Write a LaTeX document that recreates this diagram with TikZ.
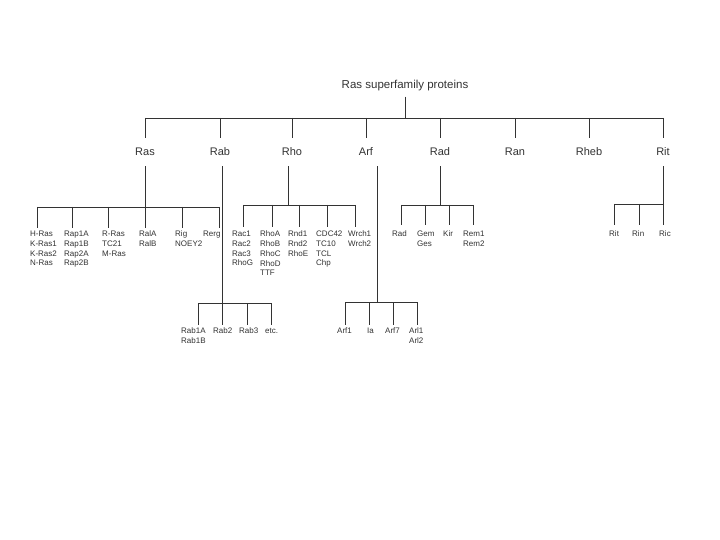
\documentclass[tikz,border=0pt]{standalone}
\usepackage{fontspec}
\setmainfont{Liberation Sans}
\definecolor{linec}{HTML}{333333}
\definecolor{txtc}{HTML}{333333}
\begin{document}
\begin{tikzpicture}[x=1pt,y=-1pt,
  ln/.style={draw=linec, line width=0.8pt},
  ttl/.style={font=\fontsize{11.5}{13}\selectfont, text=txtc, inner sep=5pt},
  fam/.style={font=\fontsize{11}{13}\selectfont, text=txtc, inner xsep=1pt, inner ysep=10pt},
  sub/.style={font=\fontsize{8}{9.7}\selectfont, text=txtc, align=left, anchor=north west, inner sep=0pt}]
\useasboundingbox[fill=white] (0,0) rectangle (720,540);

% title and families
\node[ttl] (top) at (405,86) {Ras superfamily proteins};
\coordinate (bar) at (405,118);
\node[fam] (ras) at (145,152) {Ras};
\node[fam] (rab) at (220,152) {Rab};
\node[fam] (rho) at (292,152) {Rho};
\node[fam] (arf) at (366,152) {Arf};
\node[fam] (rad) at (440,152) {Rad};
\node[fam] (ran) at (515,152) {Ran};
\node[fam] (rheb) at (589,152) {Rheb};
\node[fam] (rit) at (663,152) {Rit};

\draw[ln] (top.south) -- (bar);
\draw[ln] (ras.north |- bar) -- (rit.north |- bar);
\foreach \f in {ras,rab,rho,arf,rad,ran,rheb,rit}
  \draw[ln] (\f.north |- bar) -- (\f.north);

% junctions
\coordinate (rasj) at (145,207);
\coordinate (rabj) at (222,303);
\coordinate (rhoj) at (288,205);
\coordinate (arfj) at (377,302);
\coordinate (radj) at (440,205);
\coordinate (ritj) at (663,204);
\draw[ln] (ras.south) -- (rasj);
\draw[ln] (rabj |- rab.south) -- (rabj);
\draw[ln] (rhoj |- rho.south) -- (rhoj);
\draw[ln] (arfj |- arf.south) -- (arfj);
\draw[ln] (radj |- rad.south) -- (radj);
\draw[ln] (rit.south) -- (ritj);

% Ras group
\foreach \n/\x in {1/37,2/72,3/108,4/145,5/182,6/219}
  \coordinate (rasd\n) at (\x,228);
\draw[ln] (rasd1 |- rasj) -- (rasd6 |- rasj);
\foreach \n in {1,...,6} \draw[ln] (rasd\n |- rasj) -- (rasd\n);
\node[sub] (hras) at (30,231) {H-Ras\\K-Ras1\\K-Ras2\\N-Ras};
\node[sub] (rap) at (64,231) {Rap1A\\Rap1B\\Rap2A\\Rap2B};
\node[sub] (rras) at (102,231) {R-Ras\\TC21\\M-Ras};
\node[sub] (ral) at (139,231) {RalA\\RalB};
\node[sub] (rig) at (175,231) {Rig\\NOEY2};
\node[sub] (rerg) at (203,231) {Rerg};

% Rho group
\foreach \n/\x in {1/243,2/272,3/299,4/327,5/355}
  \coordinate (rhod\n) at (\x,227);
\draw[ln] (rhod1 |- rhoj) -- (rhod5 |- rhoj);
\foreach \n in {1,...,5} \draw[ln] (rhod\n |- rhoj) -- (rhod\n);
\node[sub] (rac) at (232,231) {Rac1\\Rac2\\Rac3\\RhoG};
\node[sub] (rhoa) at (260,231) {RhoA\\RhoB\\RhoC\\RhoD\\TTF};
\node[sub] (rnd) at (288,231) {Rnd1\\Rnd2\\RhoE};
\node[sub] (cdc) at (316,231) {CDC42\\TC10\\TCL\\Chp};
\node[sub] (wrch) at (348,231) {Wrch1\\Wrch2};

% Rad group
\foreach \n/\x in {1/401,2/425,3/449,4/473}
  \coordinate (radd\n) at (\x,225);
\draw[ln] (radd1 |- radj) -- (radd4 |- radj);
\foreach \n in {1,...,4} \draw[ln] (radd\n |- radj) -- (radd\n);
\node[sub] (radl) at (392,231) {Rad};
\node[sub] (gem) at (417,231) {Gem\\Ges};
\node[sub] (kir) at (443,231) {Kir};
\node[sub] (rem) at (463,231) {Rem1\\Rem2};

% Rit group
\foreach \n/\x in {1/614,2/639,3/663}
  \coordinate (ritd\n) at (\x,225);
\draw[ln] (ritd1 |- ritj) -- (ritd3 |- ritj);
\foreach \n in {1,2} \draw[ln] (ritd\n |- ritj) -- (ritd\n);
\draw[ln] (ritj) -- (ritd3);
\node[sub] (ritl) at (609,231) {Rit};
\node[sub] (rin) at (632,231) {Rin};
\node[sub] (ric) at (659,231) {Ric};

% Rab group
\foreach \n/\x in {1/198,2/222,3/247,4/271}
  \coordinate (rabd\n) at (\x,325);
\draw[ln] (rabd1 |- rabj) -- (rabd4 |- rabj);
\foreach \n in {1,...,4} \draw[ln] (rabd\n |- rabj) -- (rabd\n);
\node[sub] (rab1) at (181,328) {Rab1A\\Rab1B};
\node[sub] (rab2) at (213,328) {Rab2};
\node[sub] (rab3) at (239,328) {Rab3};
\node[sub] (etc) at (265,328) {etc.};

% Arf group
\foreach \n/\x in {1/345,2/369,3/393,4/417}
  \coordinate (arfd\n) at (\x,325);
\draw[ln] (arfd1 |- arfj) -- (arfd4 |- arfj);
\foreach \n in {1,...,4} \draw[ln] (arfd\n |- arfj) -- (arfd\n);
\node[sub] (arf1) at (337,328) {Arf1};
\node[sub] (ia) at (367,328) {Ia};
\node[sub] (arf7) at (385,328) {Arf7};
\node[sub] (arl) at (409,328) {Arl1\\Arl2};
\end{tikzpicture}
\end{document}
